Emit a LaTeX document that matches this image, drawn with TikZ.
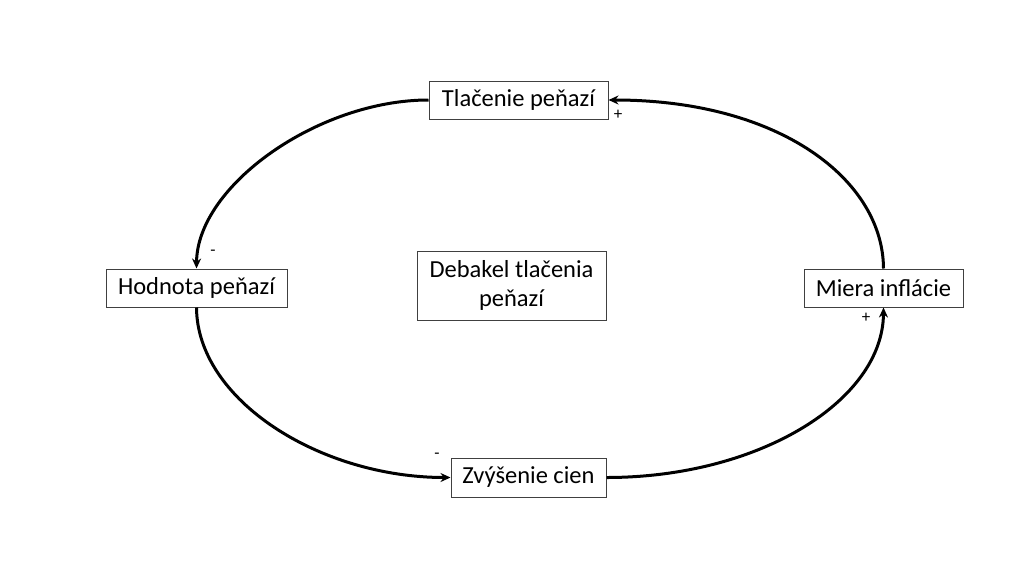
\documentclass[tikz,border=0pt]{standalone}
\usepackage{fontspec}
\setmainfont{Carlito}
\usetikzlibrary{arrows.meta}
\begin{document}
\begin{tikzpicture}[x=1pt,y=-1pt,
  box/.style={draw=black!75,line width=1pt,fill=white,inner sep=0pt,font=\fontsize{24.5}{28.5}\selectfont,align=center},
  conn/.style={line width=3pt,-{Stealth[length=10pt,width=9pt]}},
  sign/.style={font=\fontsize{17}{19}\selectfont,inner sep=0pt}]
\useasboundingbox (0,0) rectangle (1024,576);
\node[box,minimum width=179pt,minimum height=38pt] (t) at (518.5,100) {Tlačenie peňazí};
\node[box,minimum width=181pt,minimum height=38pt] (h) at (196.5,288) {Hodnota peňazí};
\node[box,minimum width=159pt,minimum height=38pt] (m) at (883.5,288) {Miera inflácie};
\node[box,minimum width=155pt,minimum height=39pt] (z) at (528.5,477.5) {Zvýšenie cien};
\node[box,minimum width=189pt,minimum height=69pt] (d) at (511.5,285.5) {Debakel tlačenia\\peňazí};
\draw[conn] (t.west) .. controls (318,100) and (197,186) .. (h.north);
\draw[conn] (h.south) .. controls (197,400) and (320,477.5) .. (z.west);
\draw[conn] (z.east) .. controls (760,477.5) and (883,400) .. (m.south);
\draw[conn] (m.north) .. controls (883,180) and (780,100) .. (t.east);
\node[sign] (s1) at (213,253) {-};
\node[sign] (s2) at (437,456) {-};
\node[sign] (s3) at (866,318) {+};
\node[sign] (s4) at (618,115) {+};
\end{tikzpicture}
\end{document}
